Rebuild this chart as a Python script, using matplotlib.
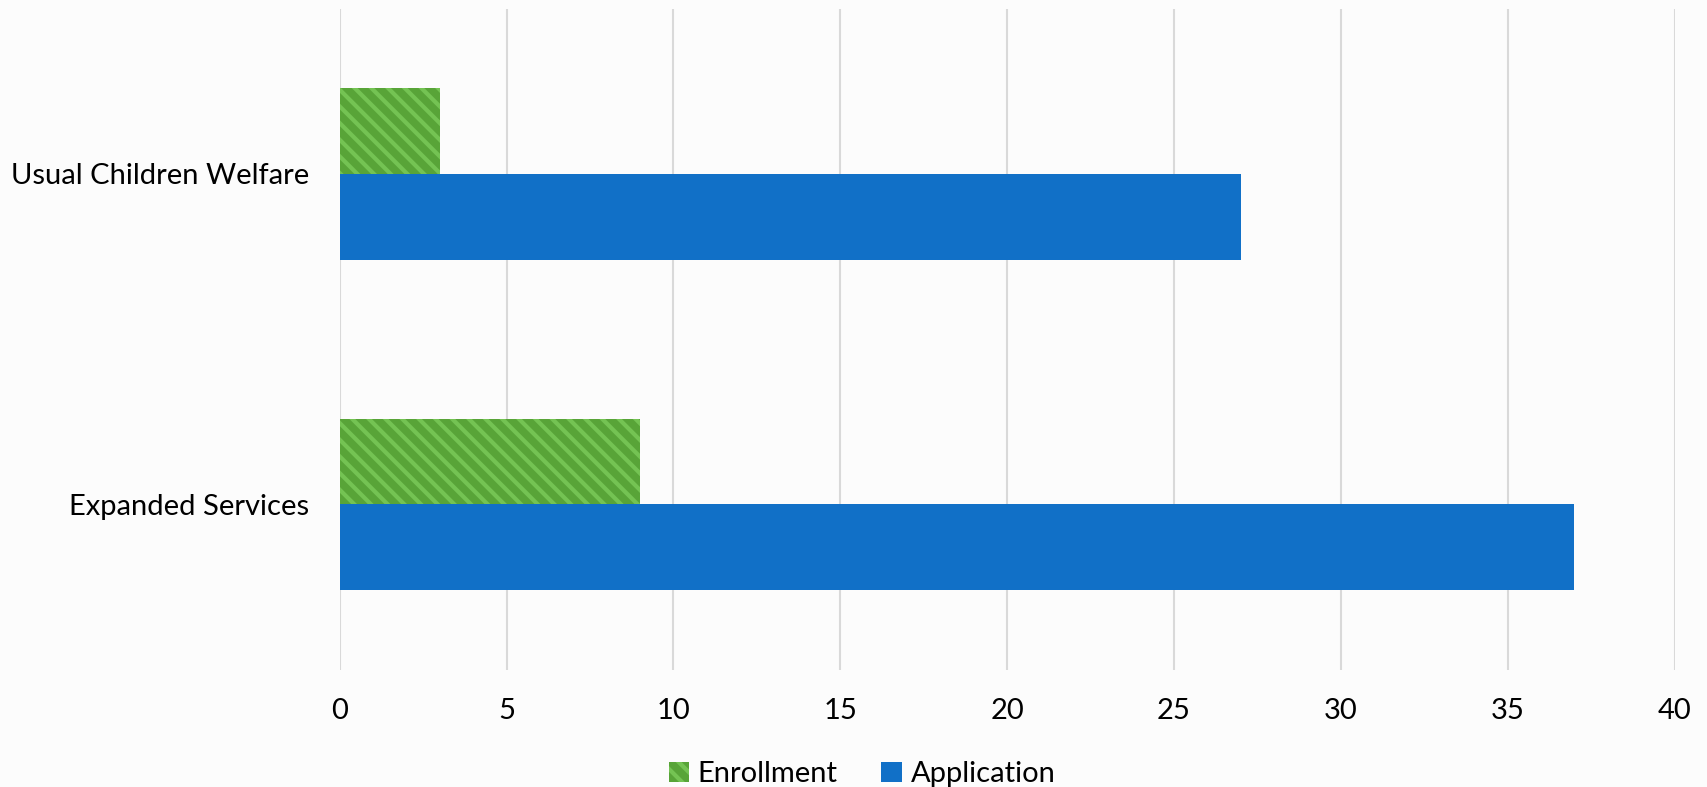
import matplotlib
matplotlib.use("Agg")
import matplotlib.pyplot as plt
import numpy as np

categories = ["Usual Children Welfare", "Expanded Services"]
enrollment = [3, 9]
application = [27, 37]
xticks = [0, 5, 10, 15, 20, 25, 30, 35, 40]

plt.rcParams['font.family'] = ['Lato', 'DejaVu Sans']
plt.rcParams['hatch.linewidth'] = 3.0

fig = plt.figure(figsize=(17.07, 7.87), dpi=100, facecolor='#fcfcfc')
ax = fig.add_axes([0.199, 0.149, 0.782, 0.84])
ax.set_facecolor('#fcfcfc')

y = np.arange(len(categories))
h = 0.26
ax.barh(y - h / 2, enrollment, height=h, color='#58a438', hatch='\\\\',
        edgecolor='#74c353', linewidth=0, label='Enrollment', zorder=3)
ax.barh(y + h / 2, application, height=h, color='#1170c7',
        linewidth=0, label='Application', zorder=3)

ax.set_ylim(1.5, -0.5)
ax.set_xlim(0, 40)
ax.set_xticks(xticks)
ax.set_yticks(y)
ax.set_yticklabels(categories)
ax.tick_params(length=0, labelsize=21, colors='black')
ax.tick_params(axis='x', pad=20)
ax.tick_params(axis='y', pad=22)
ax.grid(axis='x', color='#d9d9d9', linewidth=1.5, zorder=0)
for s in ax.spines.values():
    s.set_visible(False)

fig.legend(loc='center', bbox_to_anchor=(0.505, 0.016), ncol=2, frameon=False,
           fontsize=21, handlelength=0.7, handleheight=0.7, handletextpad=0.3,
           columnspacing=1.5)

fig.savefig("out.png", dpi=100, facecolor=fig.get_facecolor())
